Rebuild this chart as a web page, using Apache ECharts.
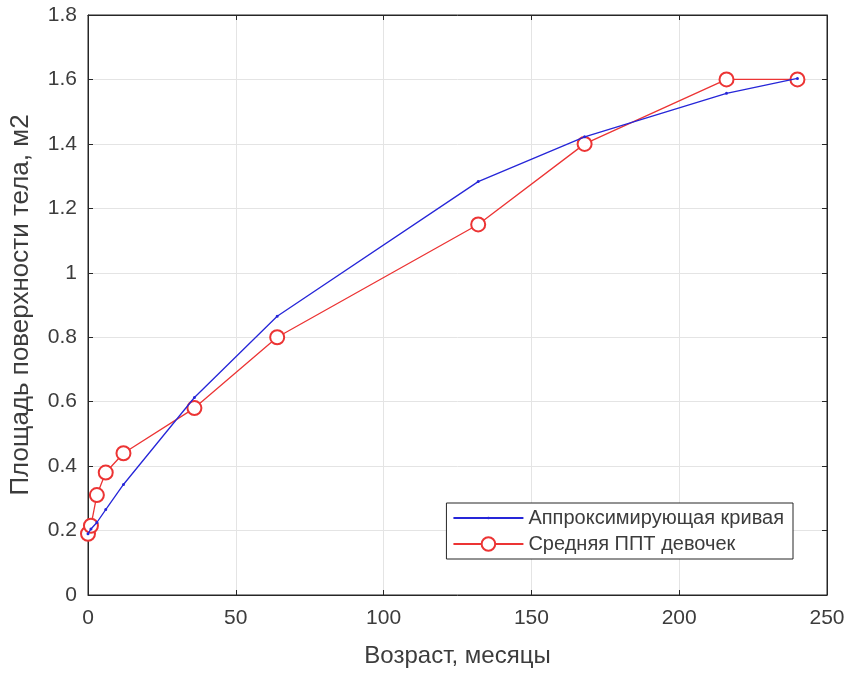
<!DOCTYPE html>
<html>
<head>
<meta charset="utf-8">
<script src="https://cdn.jsdelivr.net/npm/echarts@6/dist/echarts.min.js"></script>
<style>
  html, body { margin: 0; padding: 0; background: #fff; }
  #chart { width: 848px; height: 673px; }
</style>
</head>
<body>
<div id="chart"></div>
<script>
// возраст, месяцы
const ages = [0, 1, 3, 6, 12, 36, 64, 132, 168, 216, 240]
// аппроксимирующая кривая
const fitValues = [0.19, 0.205, 0.225, 0.265, 0.343, 0.613, 0.865, 1.283, 1.422, 1.557, 1.603]
// средняя ППТ девочек
const girlsValues = [0.19, 0.215, 0.31, 0.38, 0.44, 0.58, 0.80, 1.15, 1.40, 1.60, 1.60]

const fitName = 'Аппроксимирующая кривая'
const girlsName = 'Средняя ППТ девочек'

const axisColor = '#262626'
const textColor = '#3c3c3c'
const gridColor = '#e4e4e4'
const font = 'Liberation Sans, Arial, sans-serif'

// маленькая точка с запасом по краям, чтобы в легенде она тоже была маленькой
const dotSymbol = 'path://M0,0h0.01v0.01h-0.01zM4,5a1,1 0 1,0 2,0a1,1 0 1,0 -2,0zM9.99,9.99h0.01v0.01h-0.01z'

const chart = echarts.init(document.getElementById('chart'))

// верхняя и правая оси только для рисок (как в рамке MATLAB)
const boxAxis = {
  axisLine: { show: true, onZero: false, lineStyle: { color: axisColor, width: 1 } },
  axisTick: { show: true, inside: true, length: 5, lineStyle: { color: axisColor } },
  axisLabel: { show: false },
  splitLine: { show: false }
}

const option = {
  backgroundColor: '#fff',
  animation: false,
  grid: {
    left: 88, top: 15, right: 21, bottom: 76,
    show: true, borderColor: axisColor, borderWidth: 1
  },
  legend: {
    right: 55,
    top: 503,
    orient: 'vertical',
    itemWidth: 70,
    itemHeight: 17,
    itemGap: 6,
    padding: [5, 9, 5, 6],
    backgroundColor: '#fff',
    borderColor: axisColor,
    borderWidth: 1,
    textStyle: { fontFamily: font, fontSize: 20, color: textColor },
    data: [{ name: fitName }, { name: girlsName }]
  },
  xAxis: [
    {
      type: 'value',
      min: 0,
      max: 250,
      interval: 50,
      name: 'Возраст, месяцы',
      nameLocation: 'middle',
      nameGap: 49,
      nameTextStyle: { fontFamily: font, fontSize: 24, color: textColor },
      axisLine: { show: true, onZero: false, lineStyle: { color: axisColor } },
      axisTick: { inside: true, length: 5, lineStyle: { color: axisColor } },
      axisLabel: { fontFamily: font, fontSize: 21, color: textColor, margin: 13 },
      splitLine: { show: true, lineStyle: { color: gridColor } }
    },
    Object.assign({ type: 'value', min: 0, max: 250, interval: 50, position: 'top' }, boxAxis)
  ],
  yAxis: [
    {
      type: 'value',
      min: 0,
      max: 1.8,
      interval: 0.2,
      name: 'Площадь поверхности тела, м2',
      nameLocation: 'middle',
      nameGap: 54,
      nameTextStyle: { fontFamily: font, fontSize: 26, color: textColor },
      axisLine: { show: true, onZero: false, lineStyle: { color: axisColor } },
      axisTick: { inside: true, length: 5, lineStyle: { color: axisColor } },
      axisLabel: { fontFamily: font, fontSize: 21, color: textColor, margin: 11 },
      splitLine: { show: true, lineStyle: { color: gridColor } }
    },
    Object.assign({ type: 'value', min: 0, max: 1.8, interval: 0.2, position: 'right' }, boxAxis)
  ],
  series: [
    {
      name: fitName,
      type: 'line',
      data: ages.map((a, i) => [a, fitValues[i]]),
      symbol: dotSymbol,
      symbolSize: 15,
      lineStyle: { color: '#2626d8', width: 1.3 },
      itemStyle: { color: '#2626d8' },
      z: 3
    },
    {
      name: girlsName,
      type: 'line',
      data: ages.map((a, i) => [a, girlsValues[i]]),
      symbol: 'emptyCircle',
      symbolSize: 14,
      lineStyle: { color: '#ec3434', width: 1.3 },
      itemStyle: { color: '#ec3434', borderWidth: 1.2 },
      z: 2
    },
    {
      // пустая серия, чтобы отрисовались верхняя и правая оси
      type: 'line',
      xAxisIndex: 1,
      yAxisIndex: 1,
      data: [[0, 0]],
      symbol: 'none',
      silent: true,
      lineStyle: { opacity: 0 }
    }
  ]
}

chart.setOption(option)
</script>
</body>
</html>
